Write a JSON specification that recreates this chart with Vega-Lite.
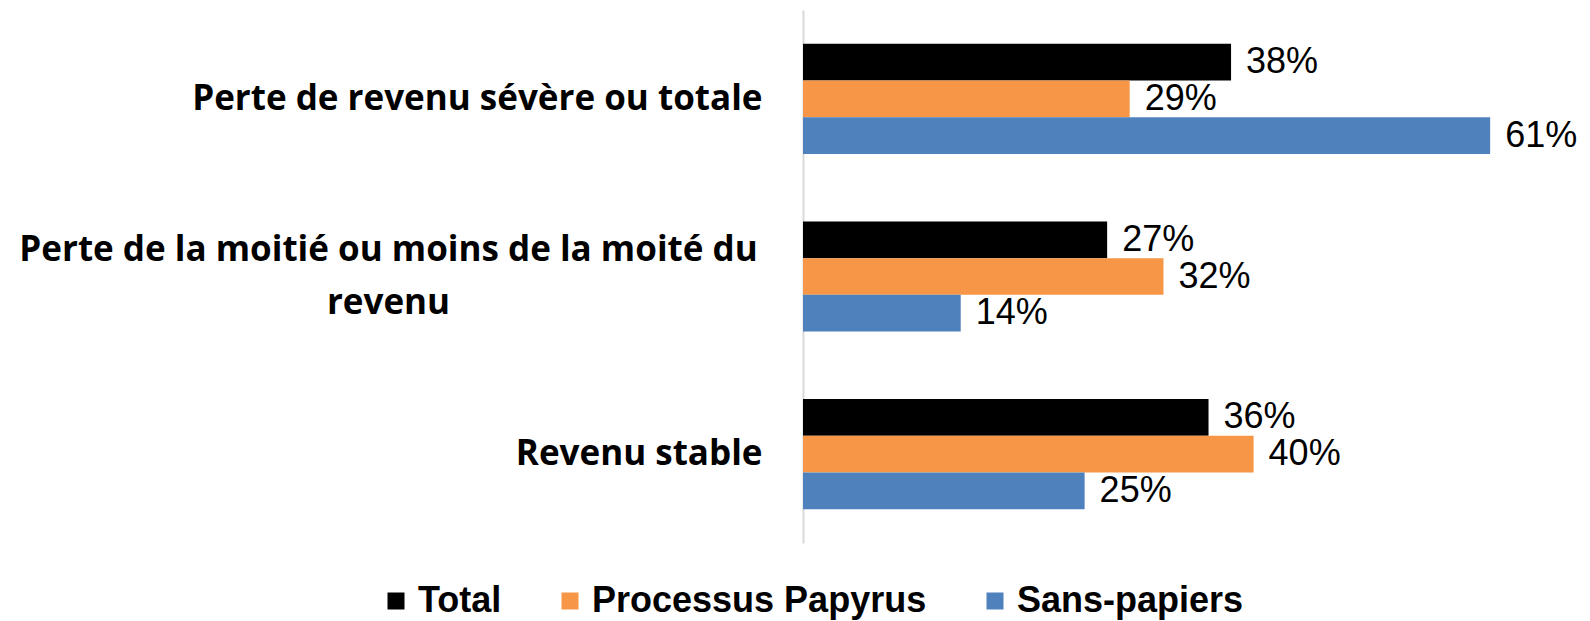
{
  "$schema": "https://vega.github.io/schema/vega-lite/v6.json",
  "width": 766,
  "height": 533,
  "autosize": {"type": "none"},
  "padding": {"left": 803, "top": 10, "right": 21, "bottom": 78},
  "background": "white",
  "config": {"view": {"stroke": null}},
  "data": {
    "values": [
      {"categorie": "Perte de revenu sévère ou totale", "groupe": "Total", "valeur": 0.38},
      {"categorie": "Perte de revenu sévère ou totale", "groupe": "Processus Papyrus", "valeur": 0.29},
      {"categorie": "Perte de revenu sévère ou totale", "groupe": "Sans-papiers", "valeur": 0.61},
      {"categorie": "Perte de la moitié ou moins de la moité du revenu", "groupe": "Total", "valeur": 0.27},
      {"categorie": "Perte de la moitié ou moins de la moité du revenu", "groupe": "Processus Papyrus", "valeur": 0.32},
      {"categorie": "Perte de la moitié ou moins de la moité du revenu", "groupe": "Sans-papiers", "valeur": 0.14},
      {"categorie": "Revenu stable", "groupe": "Total", "valeur": 0.36},
      {"categorie": "Revenu stable", "groupe": "Processus Papyrus", "valeur": 0.40},
      {"categorie": "Revenu stable", "groupe": "Sans-papiers", "valeur": 0.25}
    ]
  },
  "encoding": {
    "y": {
      "field": "categorie",
      "type": "nominal",
      "sort": null,
      "title": null,
      "scale": {"paddingInner": 0.38, "paddingOuter": 0.19},
      "axis": {
        "domainColor": "#D9D9D9",
        "domainWidth": 2,
        "ticks": false,
        "labelFont": "Open Sans",
        "labelFontWeight": "bold",
        "labelFontSize": 35,
        "labelColor": "black",
        "labelLimit": 0,
        "labelLineHeight": 53,
        "labelPadding": {"condition": {"test": "datum.value == 'Perte de la moitié ou moins de la moité du revenu'", "value": 415}, "value": 41},
        "labelOffset": {"condition": {"test": "datum.value == 'Perte de la moitié ou moins de la moité du revenu'", "value": -27}, "value": 0},
        "labelAlign": {"condition": {"test": "datum.value == 'Perte de la moitié ou moins de la moité du revenu'", "value": "center"}, "value": "right"},
        "labelExpr": "datum.value == 'Perte de la moitié ou moins de la moité du revenu' ? ['Perte de la moitié ou moins de la moité du', 'revenu'] : datum.value"
      }
    },
    "yOffset": {
      "field": "groupe",
      "type": "nominal",
      "sort": ["Total", "Processus Papyrus", "Sans-papiers"],
      "scale": {"paddingInner": 0, "paddingOuter": 0}
    },
    "x": {
      "field": "valeur",
      "type": "quantitative",
      "scale": {"domain": [0, 0.68]},
      "axis": null
    }
  },
  "layer": [
    {
      "mark": {"type": "bar"},
      "encoding": {
        "color": {
          "field": "groupe",
          "type": "nominal",
          "sort": ["Total", "Processus Papyrus", "Sans-papiers"],
          "scale": {"domain": ["Total", "Processus Papyrus", "Sans-papiers"], "range": ["#000000", "#F79646", "#4F81BD"]},
          "legend": {
            "title": null,
            "orient": "none",
            "direction": "horizontal",
            "legendX": -425,
            "legendY": 573,
            "symbolType": "square",
            "symbolSize": 289,
            "symbolStrokeWidth": 0,
            "labelFont": "Liberation Sans",
            "labelFontWeight": "bold",
            "labelFontSize": 36,
            "labelColor": "black",
            "labelLimit": 0,
            "labelOffset": 4,
            "columnPadding": 50
          }
        }
      }
    },
    {
      "mark": {"type": "text", "align": "left", "baseline": "middle", "dx": 15, "font": "Liberation Sans", "fontSize": 36, "color": "black"},
      "encoding": {
        "text": {"field": "valeur", "type": "quantitative", "format": ".0%"}
      }
    }
  ]
}
